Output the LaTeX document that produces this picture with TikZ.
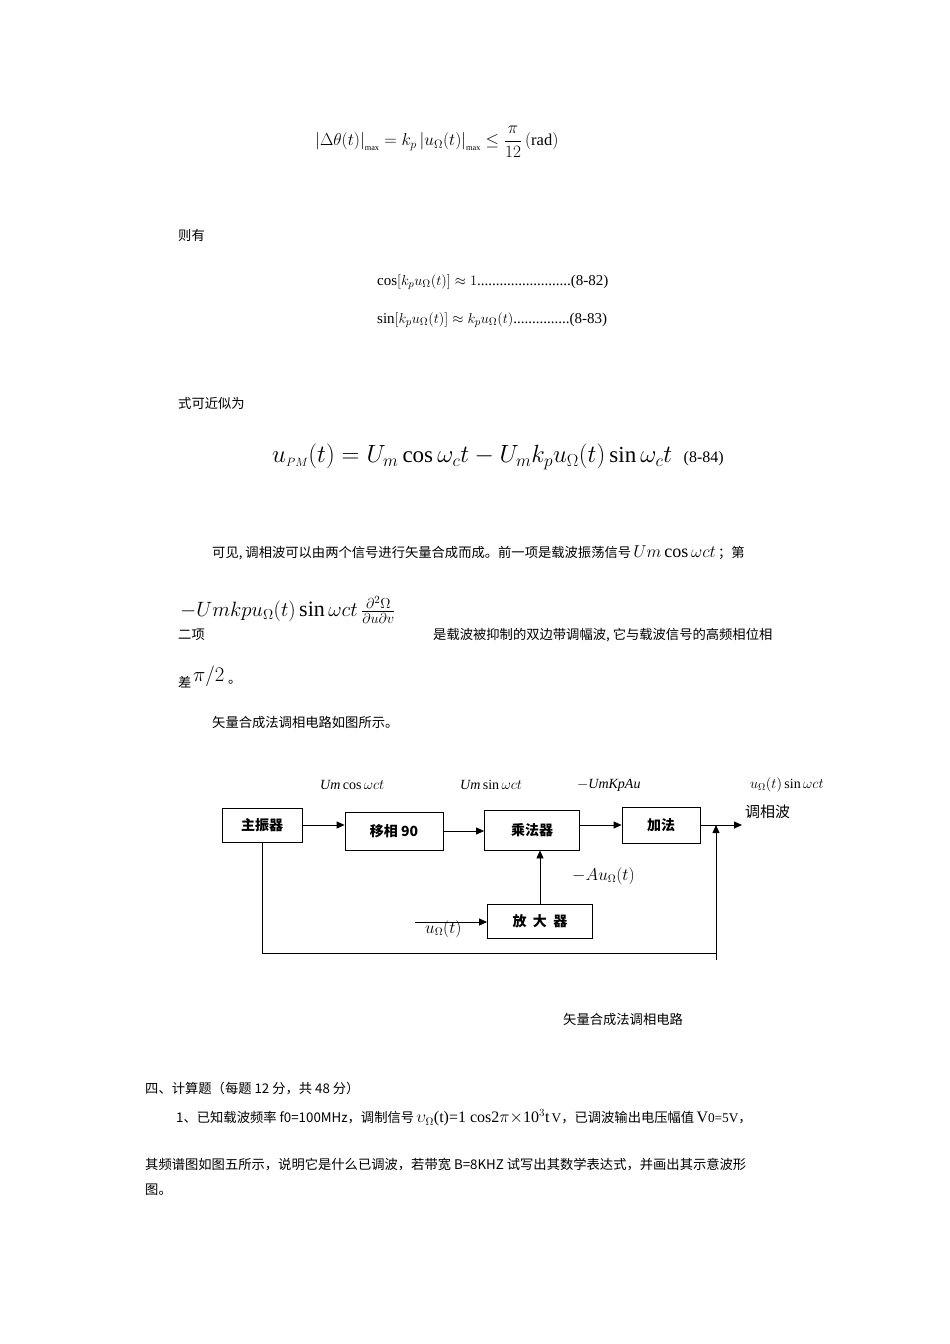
\documentclass[tikz,border=0pt]{standalone}
\usepackage{fontspec}
\usepackage{amsmath}
\setmainfont{Liberation Serif}
\newfontfamily\cjk{Noto Sans CJK SC}
\usetikzlibrary{arrows.meta}
\begin{document}
\begin{tikzpicture}[x=1pt,y=-1pt,
  txt/.style={anchor=west,inner sep=0pt,font=\cjk\fontsize{13.3}{15}\selectfont},
  blk/.style={draw,thick,minimum height=34pt,font=\cjk\bfseries\fontsize{14}{16}\selectfont},
  lab/.style={inner sep=0pt,font=\fontsize{14}{16}\selectfont},
  arr/.style={-{Triangle[length=8pt,width=7pt]},thick}]
\useasboundingbox[fill=white] (0,0) rectangle (950,1344);
\node[anchor=west,inner sep=0pt,font=\fontsize{16.5}{18}\selectfont] (f1) at (315,142) {$\left|\Delta\theta(t)\right|_{\scriptscriptstyle\max}=k_p\left|u_\Omega(t)\right|_{\scriptscriptstyle\max}\le\dfrac{\pi}{12}\,(\mathrm{rad})$};
\node[txt] (t1) at (178,235) {则有};
\node[anchor=west,inner sep=0pt,font=\fontsize{15}{17}\selectfont] (f2) at (377,282) {$\cos[k_pu_\Omega(t)]\approx1$.........................(8-82)};
\node[anchor=west,inner sep=0pt,font=\fontsize{15}{17}\selectfont] (f3) at (377,320) {$\sin[k_pu_\Omega(t)]\approx k_pu_\Omega(t)$...............(8-83)};
\node[txt] (t2) at (178,403) {式可近似为};
\node[anchor=west,inner sep=0pt,font=\fontsize{23}{27}\selectfont] (f4) at (272,457) {$u_{\scriptscriptstyle PM}(t)=U_m\cos\omega_ct-U_mk_pu_\Omega(t)\sin\omega_ct$\ \ {\fontsize{16}{18}\selectfont(8-84)}};
\node[txt] (t3) at (212,553) {可见, 调相波可以由两个信号进行矢量合成而成。前一项是载波振荡信号\,{\rmfamily\fontsize{18}{20}\selectfont$U m\cos\omega ct$}\,；第};
\node[anchor=west,inner sep=0pt,font=\fontsize{22}{24}\selectfont] (f5) at (180,610) {$-U m k p u_\Omega(t)\sin\omega ct\,\frac{\partial^2\Omega}{\partial u\partial v}$};
\node[txt] (t4) at (178,635) {二项};
\node[txt] (t5) at (433,635) {是载波被抑制的双边带调幅波, 它与载波信号的高频相位相};
\node[txt] (t6) at (178,682) {差};
\node[anchor=west,inner sep=0pt,font=\fontsize{20}{22}\selectfont] (f6) at (193,676) {$\pi/2$};
\node[txt] (t7) at (228,682) {。};
\node[txt] (t8) at (212,722) {矢量合成法调相电路如图所示。};
% diagram
\node[blk,minimum width=80pt] (zz) at (262,825) {主振器};
\node[blk,minimum width=98pt,minimum height=38pt] (yx) at (394,831) {移相 90};
\node[blk,minimum width=95pt,minimum height=40pt] (cf) at (532,830) {乘法器};
\node[blk,minimum width=78pt,minimum height=36pt] (jf) at (661,825) {加法};
\node[blk,minimum width=105pt] (fd) at (540,921) {放\ \ 大\ \ 器};
\draw[arr] (zz.east) -- (zz.east-|yx.west);
\draw[arr] (yx.east) -- (yx.east-|cf.west);
\draw[arr] (cf.east|-jf) -- (jf.west);
\coordinate (out) at (742,825);
\draw[arr] (jf.east) -- (out);
\draw[arr] (fd.north) -- (fd.north|-cf.south);
\coordinate (in) at (415,922);
\draw[arr] (in) -- (fd.west|-in);
\coordinate (c1) at (262,953);
\coordinate (c2) at (716,953);
\coordinate (c3) at (716,825);
\draw[thick] (zz.south) -- (c1) -- (c2);
\draw[arr] (716,960) -- (c3);
\node[lab,anchor=west] (l1) at (320,785) {$\mathit{Um}\cos\omega ct$};
\node[lab,anchor=west] (l2) at (460,785) {$\mathit{Um}\sin\omega ct$};
\node[lab,anchor=west] (l3) at (577,785) {$-\mathit{UmKpAu}$};
\node[lab,anchor=west] (l4) at (750,785) {$u_\Omega(t)\sin\omega ct$};
\node[anchor=west,inner sep=0pt,font=\cjk\fontsize{15}{17}\selectfont] (l5) at (745,812) {调相波};
\node[lab,anchor=west,font=\fontsize{16}{18}\selectfont] (l6) at (572,876) {$-Au_\Omega(t)$};
\node[lab,anchor=west,font=\fontsize{16}{18}\selectfont] (l7) at (425,929) {$u_\Omega(t)$};
\node[txt] (cap) at (563,1019) {矢量合成法调相电路};
\node[txt] (t9) at (145,1089) {四、计算题（每题 12 分，共 48 分）};
\node[txt] (t10) at (176,1118) {1、已知载波频率 f0=100MHz，调制信号\,{\rmfamily\fontsize{16}{18}\selectfont$\upsilon_\Omega$(t)=1 cos2$\pi\times$10$^3$t}\,{\rmfamily V}，已调波输出电压幅值\,{\rmfamily\fontsize{16}{18}\selectfont V}{\rmfamily 0=5V}，};
\node[txt] (t11) at (145,1165) {其频谱图如图五所示，说明它是什么已调波，若带宽 B=8KHZ 试写出其数学表达式，并画出其示意波形};
\node[txt] (t12) at (145,1190) {图。};
\end{tikzpicture}
\end{document}
